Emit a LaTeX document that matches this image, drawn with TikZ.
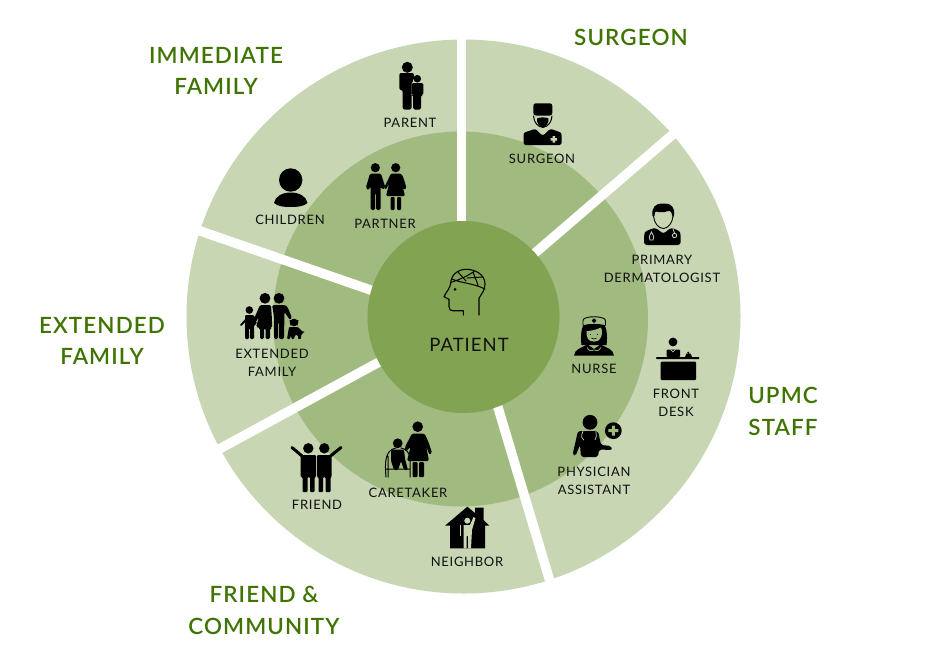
\documentclass[tikz,border=0pt]{standalone}
\usepackage{fontspec}
\setmainfont{Lato}
\newfontfamily\labelfont[LetterSpace=5.5]{Lato}
\newfontfamily\titlefont[LetterSpace=5]{Lato Semibold}
\definecolor{ringouter}{HTML}{C8D6B3}
\definecolor{ringmiddle}{HTML}{A0BA80}
\definecolor{ringcore}{HTML}{82A352}
\definecolor{titlegreen}{HTML}{3F7400}
\definecolor{labelink}{HTML}{111111}
\tikzset{
  ink/.style={fill=black,draw=none},
  limb/.style={draw=black,line cap=round,line join=round},
  gapline/.style={draw=white,line width=9.5pt},
  lbl/.style={font=\labelfont\fontsize{13}{18}\selectfont,text=labelink,align=center,inner sep=0pt},
  ttl/.style={font=\titlefont\fontsize{22.4}{31.5}\selectfont,text=titlegreen,align=center,inner sep=0pt},
}
\begin{document}
\begin{tikzpicture}[x=1pt,y=-1pt]
\useasboundingbox (0,0) rectangle (926,651);
\fill[white] (0,0) rectangle (926,651);

% concentric rings
\fill[ringouter] (463.5,316.5) circle[radius=277];
\fill[ringmiddle] (460.5,319) circle[radius=187.5];

% white gaps between the sectors
\draw[gapline] (461.7,317) -- (461.7,25);
\draw[gapline] (463,315) -- (700,111);
\draw[gapline] (471,317) -- (560,615);
\draw[gapline] (463,316.3) -- (190,465);
\draw[gapline] (463,322) -- (180,224);

\fill[ringcore] (463.5,317) circle[radius=96];

% patient: head with bandage
\draw[limb,line width=1.1pt] (479,315) -- (479,298.3) .. controls (481,294) and (485,291) .. (485,284)
  .. controls (485,275) and (476,269.3) .. (466,269.3) .. controls (458,269.3) and (451,275) .. (450.7,283)
  .. controls (450.5,288) and (446,292) .. (444,296.7) -- (449,299.3) -- (449,306.7)
  .. controls (449,309.5) and (450.5,310.7) .. (452.7,310.7) -- (463.3,310.7) -- (463.3,315);
\fill (455,289.3) circle[radius=1.5];
\draw[limb,line width=1pt] (450.7,282.5) .. controls (458,280) and (466,277) .. (474,271.5)
  (452,279) .. controls (460,283) and (473,283) .. (485,289)
  (458,272) -- (466,281) (473,272) -- (478,285) (467,278) -- (483,277);

% parent
\fill[ink] (407.3,67.3) circle[radius=5.5];
\fill[ink,rounded corners=2pt] (399.3,90) -- (399.3,73) -- (414,73) -- (414,80) -- (411.5,82) -- (411.5,109.5) -- (402.7,109.5) -- (402.7,90) -- cycle;
\fill[ink] (417.3,78.7) circle[radius=3.8];
\fill[ink,rounded corners=1.5pt] (411.7,83) -- (423.3,83) -- (423.3,95) -- (421,95) -- (421,109.5) -- (413,109.5) -- (413,95) -- (411.7,95) -- cycle;

% surgeon
\fill[ink,rounded corners=2.5pt] (533.3,103.3) rectangle (552.3,115.5);
\draw[limb,line width=1pt] (533.5,116) .. controls (534,122) and (537,126.5) .. (542.8,127.5) .. controls (548.5,126.5) and (551.5,122) .. (552,116);
\fill[ink] (537,118.5) .. controls (539,117) and (546.5,117) .. (548.5,118.5) .. controls (549,123) and (546,127) .. (542.8,127.5) .. controls (539.5,127) and (536.5,123) .. (537,118.5) -- cycle;
\fill[ink,rounded corners=2.5pt] (523.5,145) -- (523.5,136) .. controls (524,132) and (530,131) .. (535,128.5) -- (542.8,136) -- (550.5,128.5) .. controls (556,131) and (561,132) .. (561.7,136) -- (561.7,145) -- cycle;
\fill[ringouter] (552.5,136) rectangle (555,142.5) (550.5,138) rectangle (557,140.5);

% partner
\fill[ink] (375.3,167.7) circle[radius=4.6];
\fill[ink,rounded corners=1.5pt] (370,173.5) -- (381,173.5) -- (385.5,188) -- (382,189.5) -- (380.5,186) -- (380.5,210) -- (376,210) -- (376,193) -- (375,193) -- (375,210) -- (370.5,210) -- (370.5,186) -- (368.5,190.5) -- (365.8,188) -- cycle;
\fill[ink] (395.7,167.7) circle[radius=4.6];
\fill[ink,rounded corners=1.2pt] (391,173.5) -- (400,173.5) .. controls (403,175) and (405,183) .. (406.5,188) -- (404,190) -- (402,184) -- (405,196) -- (386,196) -- (389,184) -- (385.5,190) -- (384.5,187) -- cycle;
\fill[ink,rounded corners=1pt] (390.5,197) rectangle (394.5,210) (397,197) rectangle (401,210);

% children
\fill[ink] (290.7,180) circle[radius=11.7];
\fill[ink] (274,203) .. controls (275,196) and (283,192.5) .. (290.7,192.5) .. controls (298.5,192.5) and (306.5,196) .. (307.5,203) .. controls (304,206.5) and (297,207) .. (290.7,207) .. controls (284.5,207) and (277.5,206.5) .. (274,203) -- cycle;

% primary dermatologist
\fill[ink,rounded corners=1.5pt] (652.5,217) .. controls (651.5,207) and (656,203.5) .. (663.3,203.5) .. controls (671,203.5) and (675,207) .. (674,217) -- (672,217) .. controls (672,212) and (670,211) .. (668,210.5) .. controls (665,212.5) and (659,212.5) .. (655,211) -- (654.5,217) -- cycle;
\draw[limb,line width=.9pt] (653.5,216) .. controls (654,223) and (658.5,228.5) .. (663.3,228.5) .. controls (668,228.5) and (672.5,223) .. (673,216);
\fill[ink,rounded corners=3pt] (644,245) -- (644,236) .. controls (645,231) and (650,229.5) .. (655.5,227.5) -- (663.3,234) -- (671,227.5) .. controls (676,229.5) and (680,231) .. (680.7,236) -- (680.7,245) -- cycle;
\draw[ringouter,line width=.8pt] (650,240) .. controls (648,236) and (651,234) .. (651.5,232) .. controls (652,234) and (655,236) .. (653,240) -- cycle;
\draw[ringouter,line width=.8pt] (674.5,235.5) circle[radius=2.2] (674.5,233) -- (673,229);

% nurse
\fill[ink] (581.5,345) .. controls (580,335) and (582,326) .. (584,325) -- (604,325) .. controls (606,326) and (608,335) .. (606.5,345) -- cycle;
\draw[black,fill=ringmiddle,line width=.9pt,rounded corners=1pt] (583,326) -- (583,319.5) .. controls (588,316) and (600,316) .. (605.5,319.5) -- (605.5,326) .. controls (600,324) and (588,324) .. (583,326) -- cycle;
\fill[ink] (593.2,318.5) rectangle (595.2,322.5) (592.2,319.5) rectangle (596.2,321.5);
\fill[ringmiddle] (586.5,331) .. controls (590,331) and (596,330) .. (601,327.5) .. controls (602.5,331) and (602.5,335) .. (600,339) .. controls (598,342.5) and (590,342.5) .. (588,339) .. controls (586.5,336.5) and (586,333) .. (586.5,331) -- cycle;
\fill (590.5,334.5) circle[radius=.7] (597.5,334.5) circle[radius=.7];
\draw[limb,line width=.6pt] (591.5,338) .. controls (593,339.5) and (595,339.5) .. (596.5,338);
\fill[ink] (574,355.7) .. controls (574.5,349) and (582,347.5) .. (587.5,344.5) -- (594,349) -- (600.5,344.5) .. controls (606,347.5) and (613.5,349) .. (614,355.7) -- cycle;
\draw[ringmiddle,line width=.7pt] (587,347.5) .. controls (589,351) and (592,352) .. (594,350) .. controls (596,352) and (599,351) .. (601,347.5);

% front desk
\fill[ink] (673,342) circle[radius=4.4];
\fill[ink,rounded corners=1pt] (666.5,357) -- (666.5,349.5) -- (680,349.5) -- (680,357) -- cycle;
\draw[ringouter,line width=.6pt] (670.5,349.5) -- (673,352) -- (675.5,349.5);
\fill[ink] (685,357) -- (686.5,353.5) -- (690.5,353.5) -- (692,357) -- cycle;
\fill[ink] (688.3,352.8) circle[radius=1.2];
\fill[ink,rounded corners=.8pt] (656,357) rectangle (699.3,359);
\fill[ink,rounded corners=1pt] (660.7,361.7) rectangle (696,380);

% physician assistant
\fill[ink] (590,422.3) circle[radius=7.4];
\fill[ink,rounded corners=2pt] (578,431) -- (598,431) -- (601,445) -- (611.5,446) -- (612,450) -- (599,449.5) -- (598,457) -- (581,457) -- (580,445) -- (575.5,456) -- (572.5,455) -- cycle;
\draw[ringouter,line width=.7pt] (583,431) .. controls (581,436) and (581,438) .. (584,440);
\draw[ringouter,line width=.7pt] (596,431) .. controls (596,436) and (597,438) .. (595,440);
\fill[ink] (613.3,430.7) circle[radius=8.4];
\fill[ringmiddle] (611.8,425.7) rectangle (614.8,435.7) (608.3,429.2) rectangle (618.3,432.2);

% extended family
\fill[ink] (265,298.3) circle[radius=5.4];
\fill[ink] (279,298.3) circle[radius=5.4];
\fill[ink] (249.3,310) circle[radius=3.8];
\draw[limb,line width=2pt] (250,315.5) -- (241,325);
\fill[ink,rounded corners=1.2pt] (245,315) -- (254,315) -- (257,324) -- (254,325) -- (254,339) -- (250,339) -- (250,328) -- (249,328) -- (249,339) -- (245,339) -- cycle;
\fill[ink,rounded corners=1.5pt] (260,305) -- (271,305) -- (272,320) -- (272,328) -- (270,328) -- (270,339) -- (265.5,339) -- (265.5,328) -- (264,328) -- (264,339) -- (260,339) -- (260,328) -- (256,327) -- (259,317) -- (255,323) -- (253,321) -- cycle;
\fill[ink,rounded corners=1.5pt] (272,305) -- (285,305) .. controls (288,307) and (290,313) .. (292,318) -- (290,320) -- (284.5,312) -- (284,339) -- (279,339) -- (279,322) -- (278,322) -- (278,339) -- (274,339) -- (274,316) -- cycle;
\fill[ink] (294,322.5) circle[radius=3.8];
\fill[ink] (289.5,320) -- (291.5,320) -- (290.5,326) -- cycle (298.5,320) -- (296.5,320) -- (297.5,326) -- cycle;
\fill[ink,rounded corners=1pt] (289,327) -- (298,327) -- (303,332) -- (305,331) -- (301,335) -- (301,339) -- (298,339) -- (298,335) -- (295,335) -- (294,339) -- (291.5,339) -- (291,335) -- (290,339) -- (287,339) -- cycle;

% caretaker and wheelchair
\fill[ink] (417.7,426.7) circle[radius=5.3];
\fill[ink,rounded corners=1.5pt] (412,433.5) -- (423,433.5) .. controls (426,435) and (430,446) .. (432,453) -- (429.5,455) -- (426,446) -- (429,461) -- (407,461) -- (410.5,447) -- (405,452) -- (405,447) -- cycle;
\fill[ink,rounded corners=1pt] (412.5,462) rectangle (417.5,477) (419,462) rectangle (424,477);
\fill[ink] (397.7,443.3) circle[radius=4.9];
\fill[ink,rounded corners=1.5pt] (391,449.5) -- (404,449.5) -- (405,459) -- (408,470) -- (404,470) -- (401,461) -- (398,470) -- (394,470) -- (391,461) -- cycle;
\draw[limb,line width=1pt] (386,477) .. controls (385,465) and (384,450) .. (396,448)
  (410,477) -- (410,460) .. controls (410,452) and (406,449) .. (401,448)
  (388,477) -- (388,456) (386,469) -- (410,469);

% friend
\fill[ink] (308.3,448.3) circle[radius=5.2];
\fill[ink] (324.3,448.3) circle[radius=5.2];
\fill[ink,rounded corners=1pt] (300.7,455) -- (316,455) -- (316,477) -- (314.5,477) -- (314.5,492) -- (310,492) -- (310,477) -- (307.5,477) -- (307.5,492) -- (302.5,492) -- (302.5,477) -- (300.7,477) -- cycle;
\fill[ink,rounded corners=1pt] (317,455) -- (331.7,455) -- (331.7,477) -- (330.5,477) -- (330.5,492) -- (325.5,492) -- (325.5,477) -- (323,477) -- (323,492) -- (318.5,492) -- (318.5,477) -- (317,477) -- cycle;
\draw[limb,line width=3pt] (302,456) -- (292,447.5) (330.5,456) -- (341,447.5);

% neighbor house
\fill[ink] (445,525.7) -- (467.3,506.7) -- (475,513) -- (475,507.7) -- (483.5,507.7) -- (483.5,520) -- (489.3,525.7) -- (485,525.7) -- (485,548.3) -- (450,548.3) -- (450,525.7) -- cycle;
\fill[ringouter] (467.3,520.7) circle[radius=3];
\fill[ringouter] (463.5,525) -- (470,525) -- (473.5,517) -- (475.5,518) -- (472,530) -- (471,548.3) -- (468,548.3) -- (468,536) -- (466.5,536) -- (466.5,548.3) -- (463.5,548.3) -- cycle;
\draw[ringouter,line width=1pt] (460.5,525) -- (460.5,536);

% item labels
\node[lbl] (parent) at (410,122.6) {PARENT};
\node[lbl] (surgeon) at (542,158.6) {SURGEON};
\node[lbl] (partner) at (385,223.6) {PARTNER};
\node[lbl] (children) at (290,219.6) {CHILDREN};
\node[lbl] (dermatologist) at (662,269) {PRIMARY\\DERMATOLOGIST};
\node[lbl] (nurse) at (594,368.6) {NURSE};
\node[lbl] (frontdesk) at (676,402.6) {FRONT\\DESK};
\node[lbl] (physician) at (594,480.6) {PHYSICIAN\\ASSISTANT};
\node[lbl] (neighbor) at (467,561.6) {NEIGHBOR};
\node[lbl] (caretaker) at (408,492.6) {CARETAKER};
\node[lbl] (friend) at (317,504.6) {FRIEND};
\node[lbl] (extended) at (272,362.6) {EXTENDED\\FAMILY};
\node[lbl,font=\labelfont\fontsize{18.5}{20}\selectfont] (patient) at (469,344.5) {PATIENT};

% sector titles
\node[ttl] (tImmediate) at (216,71) {IMMEDIATE\\FAMILY};
\node[ttl] (tSurgeon) at (631,37.8) {SURGEON};
\node[ttl] (tExtended) at (102,341) {EXTENDED\\FAMILY};
\node[ttl] (tStaff) at (783,411.6) {UPMC\\STAFF};
\node[ttl] (tFriend) at (264,610.6) {FRIEND \&\\COMMUNITY};
\end{tikzpicture}
\end{document}
